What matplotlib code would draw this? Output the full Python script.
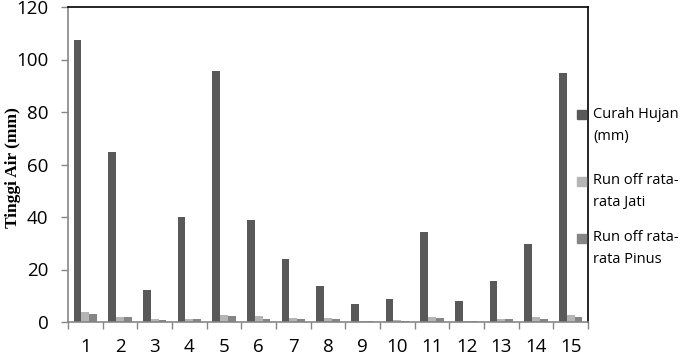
import numpy as np
import matplotlib
matplotlib.use("Agg")
import matplotlib.pyplot as plt
from matplotlib.patches import Rectangle

categories = [str(i) for i in range(1, 16)]
curah_hujan = [107.5, 64.7, 12.1, 39.9, 95.7, 38.9, 23.9, 13.8, 6.9, 8.8, 34.3, 7.9, 15.7, 29.8, 94.7]
jati = [3.7, 2.0, 1.0, 1.0, 2.8, 2.2, 1.5, 1.5, 0.3, 0.7, 2.0, 0.5, 1.3, 1.8, 2.7]
pinus = [3.0, 2.0, 0.6, 1.2, 2.2, 1.0, 1.2, 1.2, 0.2, 0.3, 1.5, 0.3, 1.0, 1.3, 1.8]
series_labels = ["Curah Hujan\n(mm)", "Run off rata-\nrata Jati", "Run off rata-\nrata Pinus"]
colors = ["#595959", "#b5b5b5", "#858585"]
yticks = [0, 20, 40, 60, 80, 100, 120]

fig = plt.figure(figsize=(6.87, 3.56), dpi=100)
ax = fig.add_axes([68/687, 34/356, 520/687, 315/356])

x = np.arange(len(categories))
w = 1/4.5
for i, vals in enumerate([curah_hujan, jati, pinus]):
    ax.bar(x + (i - 1) * w, vals, width=w, color=colors[i], edgecolor="none", zorder=2)

ax.set_xlim(-0.5, len(categories) - 0.5)
ax.set_ylim(0, 120)
ax.set_yticks(yticks)
ax.set_xticks(x)
ax.set_xticklabels(categories)
ax.set_xticks(np.arange(-0.5, len(categories)), minor=True)
ax.tick_params(axis="x", which="major", length=0, pad=11.5, labelsize=13.5)
ax.tick_params(axis="x", which="minor", length=5, width=1, color="#868686", direction="out")
ax.tick_params(axis="y", length=5, width=1, color="#868686", direction="out", pad=9, labelsize=13.5)
for lab in ax.get_xticklabels() + ax.get_yticklabels():
    lab.set_fontfamily("Open Sans")

ax.spines["left"].set_color("#868686")
ax.spines["bottom"].set_color("#868686")
ax.spines["top"].set_color("black")
ax.spines["right"].set_color("black")
for s in ax.spines.values():
    s.set_linewidth(1.2)

ax.set_ylabel("Tinggi Air (mm)", fontfamily="Liberation Serif", fontweight="bold", fontsize=12.5,
              va="center")
ax.yaxis.set_label_coords(-0.106, 0.49)

# legend drawn at the right edge
leg_y = [115, 181, 238]
for i, lab in enumerate(series_labels):
    yy = 1 - (leg_y[i] - 7) / 315
    ax.add_patch(Rectangle((1 - 11/520, yy - 4.5/315), 9/520, 9/315, transform=ax.transAxes,
                           color=colors[i], clip_on=False, zorder=3))
    ax.text(1 + 5/520, yy + 8/315, lab, transform=ax.transAxes, ha="left", va="top",
            fontfamily="Open Sans", fontsize=10.5, linespacing=1.68)

fig.savefig("out.png", dpi=100)
